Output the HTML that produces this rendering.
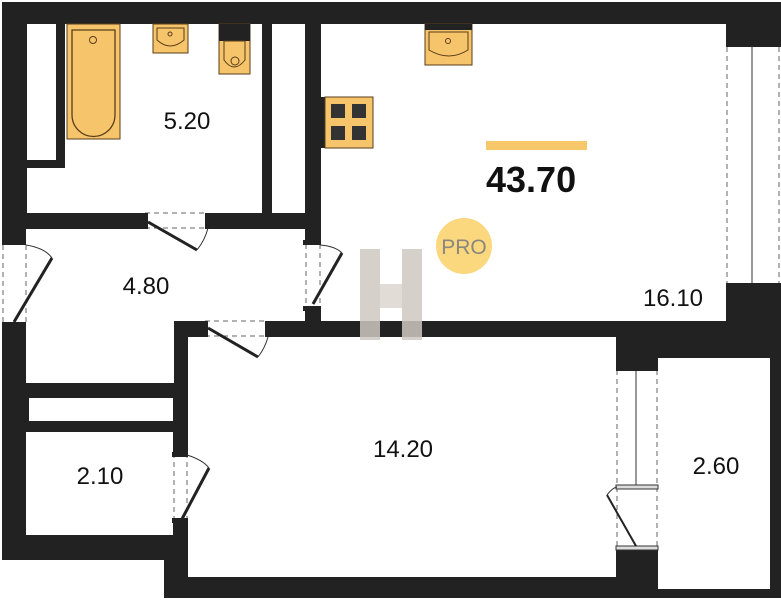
<!DOCTYPE html>
<html><head><meta charset="utf-8"><style>
html,body{margin:0;padding:0;background:#fff;}
svg{display:block;}
text{font-family:"Liberation Sans",sans-serif;}
</style></head><body>
<svg width="781" height="600" viewBox="0 0 781 600" xmlns="http://www.w3.org/2000/svg">
<rect width="781" height="600" fill="#fff"/>
<!-- footprint -->
<polygon points="2,2 781,2 781,598 164,598 164,560 2,560" fill="#222"/>
<!-- rooms -->
<g fill="#fff">
<rect x="27" y="24" width="29" height="136"/>
<rect x="65" y="24" width="197" height="189"/>
<rect x="27" y="168" width="40" height="45"/>
<rect x="272" y="24" width="33" height="189"/>
<rect x="321" y="24" width="405" height="297"/>
<rect x="26" y="229" width="279" height="92"/>
<rect x="26" y="320" width="148" height="63"/>
<rect x="29" y="398" width="144" height="23"/>
<rect x="26" y="432" width="147" height="103"/>
<rect x="188" y="337" width="428" height="240"/>
<rect x="658" y="358" width="112" height="231"/>
<!-- openings -->
<rect x="726" y="47" width="55" height="236"/>
<rect x="616" y="370" width="42" height="180"/>
<rect x="2" y="243" width="24" height="80"/>
<rect x="143" y="213" width="67" height="16"/>
<rect x="305" y="243" width="16" height="65"/>
<rect x="203" y="321" width="67" height="16"/>
<rect x="173" y="452" width="15" height="68"/>
</g>
<!-- dashed lines -->
<g stroke="#666" stroke-width="1" stroke-dasharray="5,4" fill="none">
<line x1="727" y1="47" x2="727" y2="283"/><line x1="779" y1="47" x2="779" y2="283"/>
<line x1="617" y1="370" x2="617" y2="550"/><line x1="657" y1="370" x2="657" y2="550"/>
<line x1="3" y1="245" x2="3" y2="322"/><line x1="26" y1="245" x2="26" y2="322"/>
<line x1="145" y1="213" x2="208" y2="213"/><line x1="145" y1="228" x2="208" y2="228"/>
<line x1="306" y1="244" x2="306" y2="308"/><line x1="320" y1="244" x2="320" y2="308"/>
<line x1="205" y1="321" x2="268" y2="321"/><line x1="205" y1="336" x2="268" y2="336"/>
<line x1="174" y1="453" x2="174" y2="520"/><line x1="187" y1="453" x2="187" y2="520"/>
</g>
<!-- window sills -->
<g fill="#222">
<rect x="726" y="41" width="55" height="5"/><rect x="726" y="283" width="55" height="5"/>
<rect x="616" y="366" width="42" height="5"/>
<rect x="2" y="240" width="24" height="5"/><rect x="2" y="322" width="24" height="5"/>
<rect x="303" y="240" width="18" height="5"/><rect x="303" y="306" width="18" height="5"/>
<rect x="172" y="452" width="16" height="5"/><rect x="172" y="518" width="16" height="5"/>
<rect x="143" y="213" width="5" height="16"/><rect x="205" y="213" width="5" height="16"/>
<rect x="203" y="321" width="5" height="16"/><rect x="265" y="321" width="5" height="16"/>
</g>
<g stroke="#333" stroke-width="1"><line x1="752" y1="46" x2="752" y2="283"/><line x1="636" y1="371" x2="636" y2="486"/></g>
<rect x="616" y="485" width="42" height="4" fill="#ddd" stroke="#333" stroke-width="1"/>
<rect x="616" y="546" width="42" height="4" fill="#ddd" stroke="#333" stroke-width="1"/>
<!-- door leaves -->
<g stroke="#222" stroke-width="3" fill="none">
<line x1="14" y1="322" x2="52" y2="258"/>
<line x1="148" y1="222" x2="197" y2="250"/>
<line x1="313" y1="304" x2="342" y2="253"/>
<line x1="208" y1="328" x2="258" y2="357"/>
<line x1="182" y1="519" x2="209" y2="468"/>
<line x1="607" y1="495" x2="636" y2="546" stroke-width="2"/>
</g>
<g stroke="#333" stroke-width="1" fill="none">
<path d="M26,245 Q45,248 52,258"/><path d="M197,250 Q205,240 208,228"/>
<path d="M320,245 Q335,246 342,253"/><path d="M258,357 Q265,348 268,337"/>
<path d="M187,455 Q203,460 209,468"/><path d="M607,495 Q612,488 617,487"/>
</g>
<!-- bath -->
<rect x="67" y="24" width="53" height="115" fill="#f6c46a" stroke="#5a3e1a" stroke-width="1"/>
<path d="M72,30 L115,30 L115,115 A21.5,21.5 0 0 1 72,115 Z" fill="none" stroke="#5a3e1a" stroke-width="1.3"/>
<circle cx="93" cy="40" r="3.5" fill="none" stroke="#5a3e1a"/>
<!-- sink -->
<rect x="153" y="24" width="35" height="29" fill="#f6c46a" stroke="#5a3e1a"/>
<path d="M157,28 L184,28 L184,40 Q170,52 157,40 Z" fill="none" stroke="#5a3e1a"/>
<circle cx="170" cy="34" r="2" fill="none" stroke="#5a3e1a"/>
<!-- toilet -->
<rect x="219" y="24" width="31" height="50" fill="#f6c46a" stroke="#5a3e1a"/>
<rect x="219" y="24" width="31" height="17" fill="#222"/>
<path d="M224,41 L245,41 L245,60 Q234,74 224,60 Z" fill="none" stroke="#5a3e1a"/>
<circle cx="235" cy="61" r="4" fill="none" stroke="#5a3e1a"/>
<!-- stove -->
<rect x="321" y="97" width="6" height="51" fill="#222"/>
<rect x="325" y="97" width="48" height="51" fill="#f6c46a" stroke="#5a3e1a"/>
<g fill="#333"><rect x="331" y="104" width="14" height="14"/><rect x="352" y="104" width="14" height="14"/><rect x="331" y="126" width="14" height="14"/><rect x="352" y="126" width="14" height="14"/></g>
<!-- kitchen sink -->
<rect x="425" y="24" width="47" height="41" fill="#f6c46a" stroke="#5a3e1a"/>
<rect x="425" y="24" width="47" height="6" fill="#222"/>
<path d="M429,32 L468,32 L468,50 Q449,62 429,50 Z" fill="none" stroke="#5a3e1a"/>
<circle cx="448" cy="41" r="2.5" fill="none" stroke="#5a3e1a"/>
<!-- total -->
<rect x="486" y="141" width="101" height="9" fill="#f6c86a"/>
<text x="486" y="192" font-size="36" font-weight="bold" fill="#111">43.70</text>
<!-- watermark -->
<g fill="#cfc8c1" opacity="0.85">
<rect x="360" y="249" width="20" height="91"/><rect x="402" y="249" width="20" height="91"/>
<polygon points="380,284 402,284 402,308 380,308" fill="#ddd6d0"/>
</g>
<circle cx="464" cy="246" r="28" fill="#fbd77e"/>
<text x="464" y="254" font-size="21" fill="#8a8680" text-anchor="middle">PRO</text>
<!-- labels -->
<g font-size="24" fill="#111" text-anchor="middle">
<text x="187" y="129">5.20</text>
<text x="146" y="294">4.80</text>
<text x="673" y="306">16.10</text>
<text x="403" y="457">14.20</text>
<text x="100" y="484">2.10</text>
<text x="716" y="474">2.60</text>
</g>
</svg>
</body></html>
